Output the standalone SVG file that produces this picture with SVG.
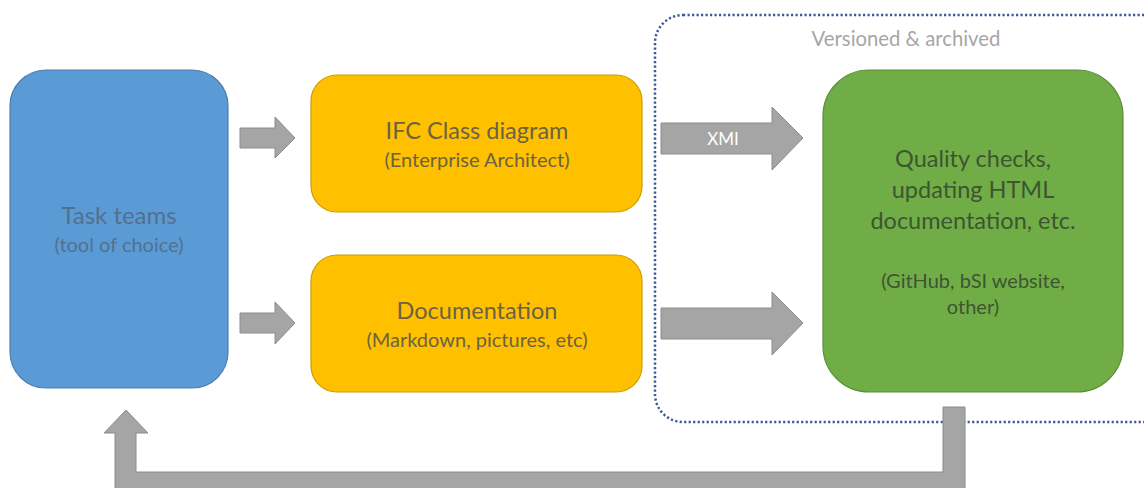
<svg xmlns="http://www.w3.org/2000/svg" width="1144" height="488" viewBox="0 0 1144 488">
<style>
.t{font-family:Lato,"Liberation Sans",sans-serif;text-anchor:middle}
.big{font-size:23.5px}
.sm{font-size:20px}
.arrow{fill:#A5A5A5;stroke:#8C8C8C;stroke-width:1}
</style>
<rect width="1144" height="488" fill="#FFFFFF"/>
<g id="archive-container">
<rect x="655" y="15" width="520" height="407" rx="28" fill="none" stroke="#3A5A98" stroke-width="2.5" stroke-dasharray="2.2 2.3"/>
<text class="t" x="906" y="46" font-size="20.3" fill="#A6A6A6">Versioned &amp; archived</text>
</g>
<g id="task-teams">
<rect x="10" y="70" width="218" height="318" rx="36" fill="#5B9BD5" stroke="#4A7FB0" stroke-width="1.2"/>
<text class="t" x="119" y="224" font-size="24" fill="#52708F">Task teams</text>
<text class="t sm" x="119" y="252" fill="#52708F">(tool of choice)</text>
</g>
<g id="ifc-class-diagram">
<rect x="311" y="75" width="331" height="137" rx="26" fill="#FFC000" stroke="#C9A000" stroke-width="1.2"/>
<text class="t big" x="477" y="139" fill="#6B6342">IFC Class diagram</text>
<text class="t sm" x="477" y="167" fill="#6B6342">(Enterprise Architect)</text>
</g>
<g id="documentation">
<rect x="311" y="255" width="331" height="137" rx="26" fill="#FFC000" stroke="#C9A000" stroke-width="1.2"/>
<text class="t big" x="477" y="319" fill="#6B6342">Documentation</text>
<text class="t sm" x="477" y="347" fill="#6B6342">(Markdown, pictures, etc)</text>
</g>
<g id="quality-checks">
<rect x="823" y="70" width="300" height="322" rx="46" fill="#70AD47" stroke="#5A8F38" stroke-width="1.2"/>
<text class="t big" x="973" y="167" fill="#3D5530">Quality checks,</text>
<text class="t big" x="973" y="198" fill="#3D5530">updating HTML</text>
<text class="t big" x="973" y="229" fill="#3D5530">documentation, etc.</text>
<text class="t sm" x="973" y="288" fill="#3D5530">(GitHub, bSI website,</text>
<text class="t sm" x="973" y="314" fill="#3D5530">other)</text>
</g>
<g id="connectors">
<polygon class="arrow" points="240,128 275,128 275,117 295,138 275,158 275,148 240,148"/>
<polygon class="arrow" points="240,313 275,313 275,302 295,323 275,344 275,333 240,333"/>
<polygon class="arrow" points="661,123 772,123 772,107 803,138 772,170 772,154 661,154"/>
<text x="723" y="145" font-family="Lato,'Liberation Sans',sans-serif" font-size="17" fill="#FFFFFF" text-anchor="middle">XMI</text>
<polygon class="arrow" points="661,308 772,308 772,292 803,323 772,355 772,339 661,339"/>
<polygon class="arrow" points="943,407 965,407 965,494 115,494 115,433 104,433 126,410 148,433 136,433 136,472 943,472"/>
</g>
</svg>
